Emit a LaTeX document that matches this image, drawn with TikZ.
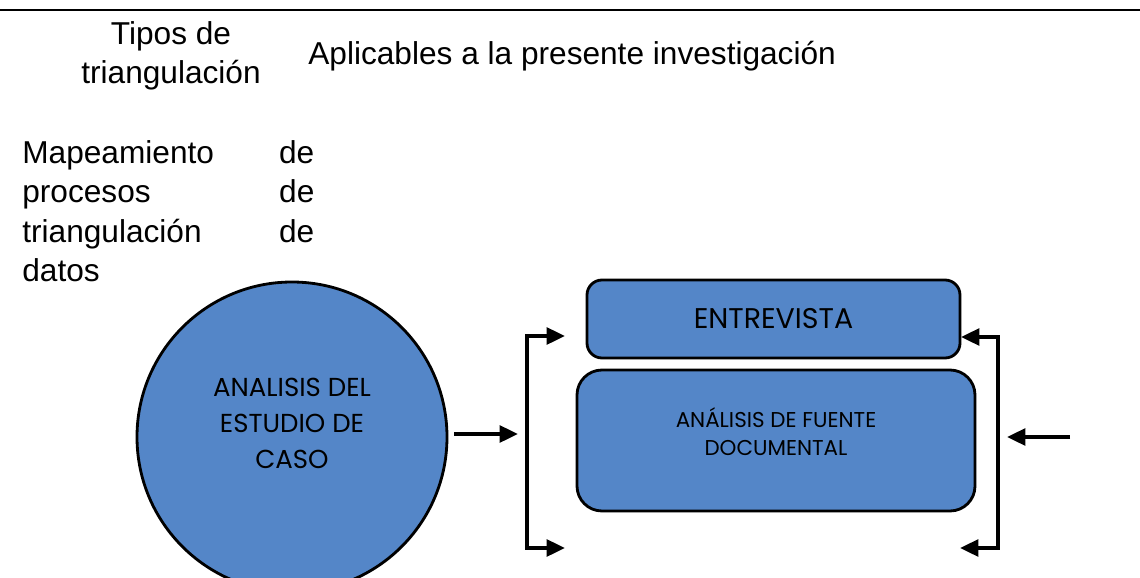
\documentclass[tikz,border=0pt]{standalone}
\usepackage{fontspec}
\setmainfont{Liberation Sans}
\newfontfamily\gothicfont{Poppins}
\usetikzlibrary{positioning}
\usetikzlibrary {arrows.meta}
\usetikzlibrary{shadows}
\definecolor{diagblue}{RGB}{84,134,200}
\tikzset{casecircle/.style={circle,draw=black,fill=diagblue,line width=1.6pt,
drop shadow={opacity=0.35,shadow xshift=0.6pt,shadow yshift=-0.6pt},
inner sep=0pt,minimum size=62mm}}
\tikzset{methodbox/.style={rectangle,draw=black,fill=diagblue,line width=1.6pt,
drop shadow={opacity=0.35,shadow xshift=0.6pt,shadow yshift=-0.6pt},
inner sep=2pt}}
\tikzset{headtext/.style={font=\fontsize{18}{22.5}\selectfont,inner sep=0pt}}
\tikzset{shapetext/.style={font=\gothicfont,align=center,inner sep=0pt}}
\tikzset{flowarrow/.style={line width=2.2pt,-{Triangle[length=10.5pt,width=9.5pt]}}}
\tikzset{bracketarrow/.style={line width=2.2pt,
{Triangle[length=10.5pt,width=9.5pt]}-{Triangle[length=10.5pt,width=9.5pt]}}}

\begin{document}
\begin{tikzpicture}[x=0.2mm,y=-0.2mm]
    \clip (0,0) rectangle (1140,578);
    \draw[line width=1.3pt] (0,10) -- (1140,10);

    \node[headtext,align=center] (tipos) at (171,56) {Tipos de\\triangulación};
    \node[headtext,anchor=base west] (aplicables) at (308,64) {Aplicables a la presente investigación};
    \node[headtext,anchor=north west,align=left,text width=58.4mm] (mapeo) at (22,140)
        {Mapeamiento\hfill de\\procesos\hfill de\\triangulación\hfill de\\datos};

    \node[casecircle] (caso) at (292,437) {};
    \node[shapetext,font=\gothicfont\fontsize{14.8}{20.5}\selectfont] (casotxt) at (292,423)
        {ANALISIS DEL\\ESTUDIO DE\\CASO};

    \node[methodbox,rounded corners=3mm,minimum width=74.6mm,minimum height=15.6mm,
        font=\gothicfont\fontsize{16.2}{18}\selectfont] (entrevista) at (773.5,319) {ENTREVISTA};
    \node[methodbox,rounded corners=5mm,minimum width=79.6mm,minimum height=28.2mm] (fuente) at (776,440.5) {};
    \node[shapetext,font=\gothicfont\fontsize{12.2}{16}\selectfont] (fuentetxt) at (776,432)
        {ANÁLISIS DE FUENTE\\DOCUMENTAL};

    % flechas de la izquierda
    \coordinate (inL) at (454,434);
    \coordinate (inLtip) at (518,434);
    \coordinate (lbTop) at (527,336);
    \coordinate (lbBot) at (527,548);
    \coordinate (lbTopTip) at (565,336);
    \coordinate (lbBotTip) at (565,548);
    \draw[flowarrow] (inL) -- (inLtip);
    \draw[bracketarrow] (lbTopTip) -- (lbTop) -- (lbBot) -- (lbBotTip);

    % flechas de la derecha
    \coordinate (inR) at (1070,437);
    \coordinate (inRtip) at (1007,437);
    \coordinate (rbTop) at (998,337);
    \coordinate (rbBot) at (998,548);
    \coordinate (rbTopTip) at (961,337);
    \coordinate (rbBotTip) at (960,548);
    \draw[flowarrow] (inR) -- (inRtip);
    \draw[bracketarrow] (rbTopTip) -- (rbTop) -- (rbBot) -- (rbBotTip);

\end{tikzpicture}
\end{document}
